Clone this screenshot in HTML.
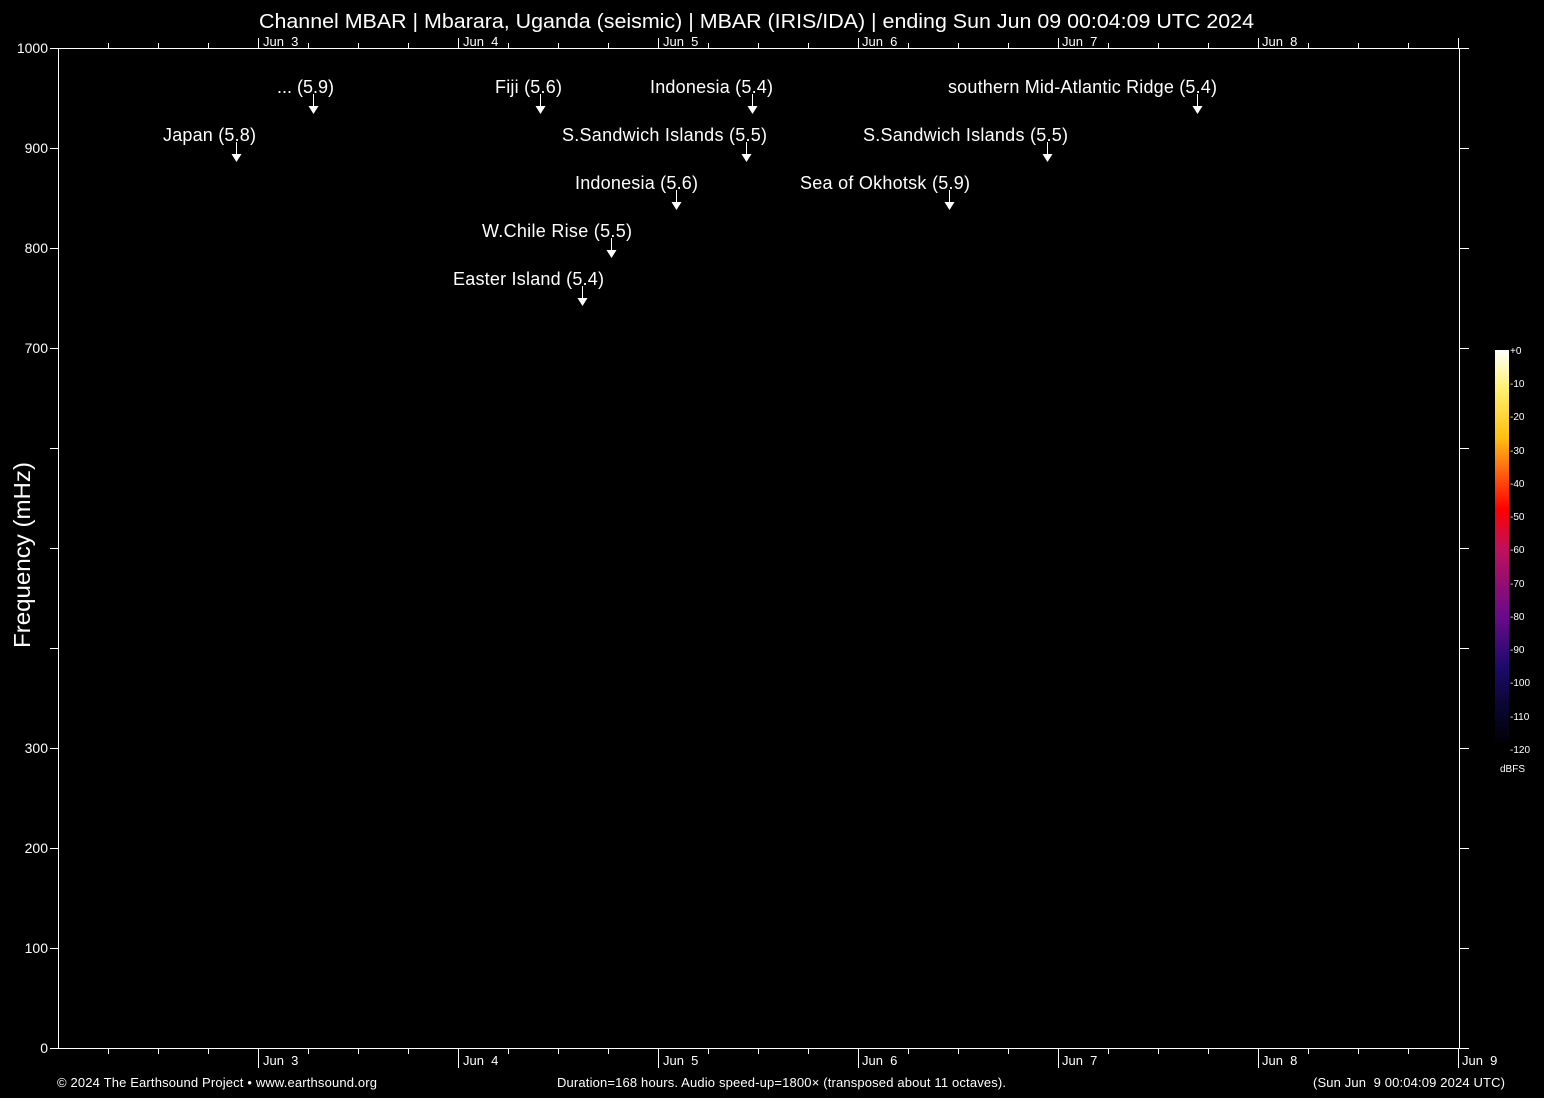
<!DOCTYPE html>
<html><head><meta charset="utf-8"><style>
html,body{margin:0;padding:0;background:#000;}
svg{display:block;}
text{font-family:"Liberation Sans",Arial,sans-serif;fill:#fff;white-space:pre;}
</style></head><body>
<svg id="s" width="1544" height="1098" viewBox="0 0 1544 1098" xmlns="http://www.w3.org/2000/svg">
<defs>
<linearGradient id="cb" x1="0" y1="1" x2="0" y2="0">
<stop offset="0" stop-color="#000000"/>
<stop offset="0.1" stop-color="#0a0530"/>
<stop offset="0.2" stop-color="#1c0a6a"/>
<stop offset="0.33" stop-color="#6a0a8a"/>
<stop offset="0.5" stop-color="#c0105a"/>
<stop offset="0.6" stop-color="#ff0000"/>
<stop offset="0.7" stop-color="#ff6a10"/>
<stop offset="0.78" stop-color="#ffc010"/>
<stop offset="0.9" stop-color="#fff070"/>
<stop offset="1" stop-color="#ffffff"/>
</linearGradient>
</defs>
<rect width="1544" height="1098" fill="#000"/>
<text x="259" y="28" font-size="20" textLength="995" lengthAdjust="spacingAndGlyphs">Channel MBAR | Mbarara, Uganda (seismic) | MBAR (IRIS/IDA) | ending Sun Jun 09 00:04:09 UTC 2024</text>
<g id="ax" stroke="#fff" stroke-width="1" fill="none">
<line x1="58" y1="48.5" x2="1469" y2="48.5"/>
<line x1="58" y1="1048.5" x2="1469" y2="1048.5"/>
<line x1="58.5" y1="48" x2="58.5" y2="1048"/>
<line x1="1459.5" y1="48" x2="1459.5" y2="1048"/>
</g>
<g font-size="14" text-anchor="end">
<text x="48" y="53">1000</text><text x="48" y="153">900</text><text x="48" y="253">800</text><text x="48" y="353">700</text>
<text x="48" y="753">300</text><text x="48" y="853">200</text><text x="48" y="953">100</text><text x="48" y="1053">0</text>
</g>
<g font-size="13">
<text x="263" y="46">Jun  3</text><text x="463" y="46">Jun  4</text><text x="663" y="46">Jun  5</text><text x="862" y="46">Jun  6</text><text x="1062" y="46">Jun  7</text><text x="1262" y="46">Jun  8</text>
<text x="263" y="1065">Jun  3</text><text x="463" y="1065">Jun  4</text><text x="663" y="1065">Jun  5</text><text x="862" y="1065">Jun  6</text><text x="1062" y="1065">Jun  7</text><text x="1262" y="1065">Jun  8</text><text x="1462" y="1065">Jun  9</text>
</g>
<text transform="translate(30,555) rotate(-90)" font-size="23" text-anchor="middle" textLength="186" lengthAdjust="spacingAndGlyphs">Frequency (mHz)</text>
<g font-size="18" lengthAdjust="spacingAndGlyphs">
<text x="277" y="93" textLength="57">... (5.9)</text>
<text x="163" y="141" textLength="93">Japan (5.8)</text>
<text x="495" y="93" textLength="67">Fiji (5.6)</text>
<text x="650" y="93" textLength="123">Indonesia (5.4)</text>
<text x="562" y="141" textLength="205">S.Sandwich Islands (5.5)</text>
<text x="575" y="189" textLength="123">Indonesia (5.6)</text>
<text x="482" y="237" textLength="150">W.Chile Rise (5.5)</text>
<text x="453" y="285" textLength="151">Easter Island (5.4)</text>
<text x="948" y="93" textLength="269">southern Mid-Atlantic Ridge (5.4)</text>
<text x="863" y="141" textLength="205">S.Sandwich Islands (5.5)</text>
<text x="800" y="189" textLength="170">Sea of Okhotsk (5.9)</text>
</g>
<g id="arr"></g>
<rect x="1495" y="350" width="14" height="398" fill="url(#cb)"/>
<g font-size="10">
<text x="1510" y="354">+0</text><text x="1510" y="387">-10</text><text x="1510" y="420">-20</text><text x="1510" y="454">-30</text><text x="1510" y="487">-40</text><text x="1510" y="520">-50</text><text x="1510" y="553">-60</text><text x="1510" y="587">-70</text><text x="1510" y="620">-80</text><text x="1510" y="653">-90</text><text x="1510" y="686">-100</text><text x="1510" y="720">-110</text><text x="1510" y="753">-120</text>
<text x="1500" y="772">dBFS</text>
</g>
<g font-size="13" lengthAdjust="spacingAndGlyphs">
<text x="57" y="1087" textLength="320">© 2024 The Earthsound Project • www.earthsound.org</text>
<text x="557" y="1087" textLength="449">Duration=168 hours. Audio speed-up=1800× (transposed about 11 octaves).</text>
<text x="1313" y="1087" textLength="192">(Sun Jun  9 00:04:09 2024 UTC)</text>
</g>
</svg>
<script>
var ns="http://www.w3.org/2000/svg",ax=document.getElementById("ax"),ar=document.getElementById("arr");
function L(x1,y1,x2,y2){var l=document.createElementNS(ns,"line");l.setAttribute("x1",x1);l.setAttribute("y1",y1);l.setAttribute("x2",x2);l.setAttribute("y2",y2);ax.appendChild(l);}
for(var k=1;k<=28;k++){var x=58.5+50*k;var maj=(k%4==0);
L(x,48,x,maj?38:43);L(x,1048,x,maj?1068:1054);}
for(var f=0;f<=1000;f+=100){var y=1048.5-f;L(50,y,58,y);L(1459,y,1469,y);}
var A=[[313,114],[236,162],[540,114],[752,114],[746,162],[676,210],[611,258],[582,306],[1197,114],[1047,162],[949,210]];
A.forEach(function(a){var x=a[0],t=a[1];
var l=document.createElementNS(ns,"line");l.setAttribute("x1",x+0.5);l.setAttribute("y1",t-20);l.setAttribute("x2",x+0.5);l.setAttribute("y2",t-6);l.setAttribute("stroke","#fff");ar.appendChild(l);
var p=document.createElementNS(ns,"polygon");p.setAttribute("points",(x-4.5)+","+(t-8)+" "+(x+5.5)+","+(t-8)+" "+(x+0.5)+","+t);p.setAttribute("fill","#fff");ar.appendChild(p);});
</script>
</body></html>
